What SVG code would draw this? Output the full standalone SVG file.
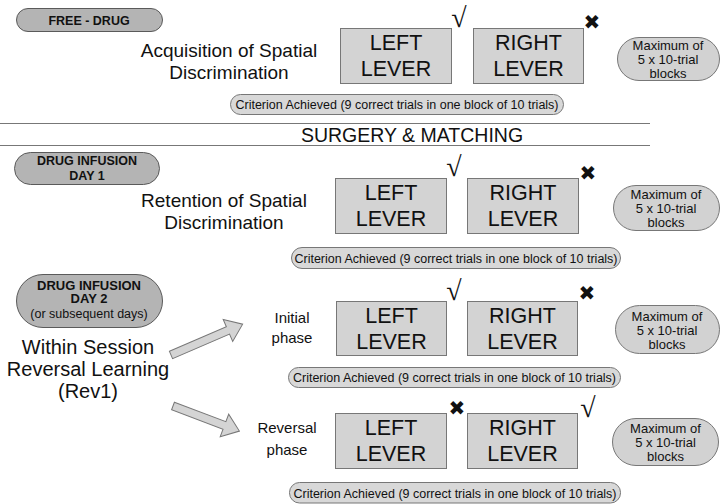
<svg xmlns="http://www.w3.org/2000/svg" width="720" height="504" viewBox="0 0 720 504">
<defs>
<style>
text{font-family:"Liberation Sans",Arial,sans-serif;fill:#111;text-anchor:middle}
.tag{fill:#b4b4b4;stroke:#5a5a5a;stroke-width:1}
.tagt{font-weight:bold;font-size:13px}
.tagr{font-size:12.5px}
.lever{fill:#d3d3d3;stroke:#777;stroke-width:1}
.levt{font-size:21.5px}
.maxp{fill:#d2d2d2;stroke:#777;stroke-width:1}
.maxt{font-size:13px}
.crit{fill:#d8d8d8;stroke:#777;stroke-width:1}
.critt{font-size:12.5px}
.big{font-size:19px}
.mid{font-size:15px}
.ok{font-family:"DejaVu Sans","Liberation Serif",serif;font-size:28px;font-weight:100}
.no{font-family:"DejaVu Sans",sans-serif;font-size:20px;font-weight:bold}
.rule{stroke:#777;stroke-width:1}
.arr{fill:#d4d4d4;stroke:#777;stroke-width:1}
</style>
</defs>

<g id="rules">
<line class="rule" x1="0" y1="123.5" x2="650" y2="123.5"/>
<line class="rule" x1="0" y1="145.5" x2="650" y2="145.5"/>
<text x="412" y="142" style="font-size:19.5px">SURGERY &amp; MATCHING</text>
</g>

<!-- Section 1 -->
<g id="free-drug">
<rect class="tag" x="16.5" y="8.5" width="146" height="23" rx="11.5"/>
<text class="tagt" x="89" y="24.5" style="font-size:12.5px">FREE - DRUG</text>
</g>
<g id="acquisition">
<text class="big" x="229" y="57">Acquisition of Spatial</text>
<text class="big" x="229" y="79">Discrimination</text>
</g>
<g id="left1">
<rect class="lever" x="340.5" y="28.5" width="111" height="55"/>
<text class="levt" x="396" y="50">LEFT</text>
<text class="levt" x="396" y="76">LEVER</text>
</g>
<g id="right1">
<rect class="lever" x="473.5" y="28.5" width="110" height="55"/>
<text class="levt" x="528.5" y="50">RIGHT</text>
<text class="levt" x="528.5" y="76">LEVER</text>
</g>
<text class="ok" x="459" y="27">√</text>
<text class="no" x="592" y="29">✖</text>
<g id="max1">
<rect class="maxp" x="617.5" y="37.5" width="102" height="43" rx="21.5"/>
<text class="maxt" x="668" y="50">Maximum of</text>
<text class="maxt" x="668" y="64">5 x 10-trial</text>
<text class="maxt" x="668" y="78">blocks</text>
</g>
<g id="crit1">
<rect class="crit" x="230.5" y="94.5" width="333" height="20" rx="10"/>
<text class="critt" x="397" y="109">Criterion Achieved (9 correct trials in one block of 10 trials)</text>
</g>

<!-- Section 2 -->
<g id="day1">
<rect class="tag" x="14.5" y="152.5" width="145" height="32" rx="16"/>
<text class="tagt" x="87" y="165" style="font-size:12.5px">DRUG INFUSION</text>
<text class="tagt" x="87" y="179.5" style="font-size:12.5px">DAY 1</text>
</g>
<g id="retention">
<text class="big" x="224" y="207">Retention of Spatial</text>
<text class="big" x="224" y="229">Discrimination</text>
</g>
<g id="left2">
<rect class="lever" x="335.5" y="178.5" width="111" height="55"/>
<text class="levt" x="391" y="200">LEFT</text>
<text class="levt" x="391" y="226">LEVER</text>
</g>
<g id="right2">
<rect class="lever" x="467.5" y="178.5" width="111" height="55"/>
<text class="levt" x="523" y="200">RIGHT</text>
<text class="levt" x="523" y="226">LEVER</text>
</g>
<text class="ok" x="454" y="176">√</text>
<text class="no" x="588" y="180">✖</text>
<g id="max2">
<rect class="maxp" x="613.5" y="185.5" width="106" height="45" rx="22.5"/>
<text class="maxt" x="666" y="199">Maximum of</text>
<text class="maxt" x="666" y="213">5 x 10-trial</text>
<text class="maxt" x="666" y="227">blocks</text>
</g>
<g id="crit2">
<rect class="crit" x="291.5" y="247.5" width="329" height="21" rx="10.5"/>
<text class="critt" x="456" y="262.5">Criterion Achieved (9 correct trials in one block of 10 trials)</text>
</g>

<!-- Section 3 -->
<g id="day2">
<rect class="tag" x="16.5" y="274.5" width="146" height="53" rx="26.5"/>
<text class="tagt" x="89" y="289.5">DRUG INFUSION</text>
<text class="tagt" x="89" y="303">DAY 2</text>
<text class="tagr" x="89" y="318">(or subsequent days)</text>
</g>
<g id="rev1">
<text style="font-size:20px" x="88" y="354">Within Session</text>
<text style="font-size:20px" x="88" y="376">Reversal Learning</text>
<text style="font-size:20px" x="88" y="398">(Rev1)</text>
</g>
<g id="connectors">
<polygon class="arr" transform="translate(171,355) rotate(-23.3)" points="0,-4 62,-4 62,-12 78,0 62,12 62,4 0,4"/>
<polygon class="arr" transform="translate(173,406) rotate(20.7)" points="0,-4 55,-4 55,-12 71,0 55,12 55,4 0,4"/>
</g>
<g id="initial">
<text class="mid" x="292" y="323">Initial</text>
<text class="mid" x="292" y="343">phase</text>
</g>
<g id="left3">
<rect class="lever" x="336.5" y="301.5" width="110" height="54"/>
<text class="levt" x="391.5" y="323">LEFT</text>
<text class="levt" x="391.5" y="349">LEVER</text>
</g>
<g id="right3">
<rect class="lever" x="467.5" y="301.5" width="110" height="54"/>
<text class="levt" x="522.5" y="323">RIGHT</text>
<text class="levt" x="522.5" y="349">LEVER</text>
</g>
<text class="ok" x="454" y="300">√</text>
<text class="no" x="587" y="300">✖</text>
<g id="max3">
<rect class="maxp" x="615.5" y="305.5" width="104" height="48" rx="24"/>
<text class="maxt" x="667" y="320.5">Maximum of</text>
<text class="maxt" x="667" y="334.5">5 x 10-trial</text>
<text class="maxt" x="667" y="348.5">blocks</text>
</g>
<g id="crit3">
<rect class="crit" x="288.5" y="367.5" width="332" height="20" rx="10"/>
<text class="critt" x="454.5" y="382">Criterion Achieved (9 correct trials in one block of 10 trials)</text>
</g>

<!-- Section 4 -->
<g id="reversal">
<text class="mid" x="287" y="433">Reversal</text>
<text class="mid" x="287" y="455">phase</text>
</g>
<g id="left4">
<rect class="lever" x="335.5" y="413.5" width="111" height="55"/>
<text class="levt" x="391" y="435">LEFT</text>
<text class="levt" x="391" y="461">LEVER</text>
</g>
<g id="right4">
<rect class="lever" x="467.5" y="413.5" width="110" height="55"/>
<text class="levt" x="522.5" y="435">RIGHT</text>
<text class="levt" x="522.5" y="461">LEVER</text>
</g>
<text class="no" x="457" y="415">✖</text>
<text class="ok" x="588" y="417">√</text>
<g id="max4">
<rect class="maxp" x="612.5" y="418.5" width="106" height="47" rx="23.5"/>
<text class="maxt" x="665.5" y="433">Maximum of</text>
<text class="maxt" x="665.5" y="447">5 x 10-trial</text>
<text class="maxt" x="665.5" y="461">blocks</text>
</g>
<g id="crit4">
<rect class="crit" x="289.5" y="482.5" width="331" height="20.5" rx="10"/>
<text class="critt" x="455" y="497.5">Criterion Achieved (9 correct trials in one block of 10 trials)</text>
</g>
</svg>
